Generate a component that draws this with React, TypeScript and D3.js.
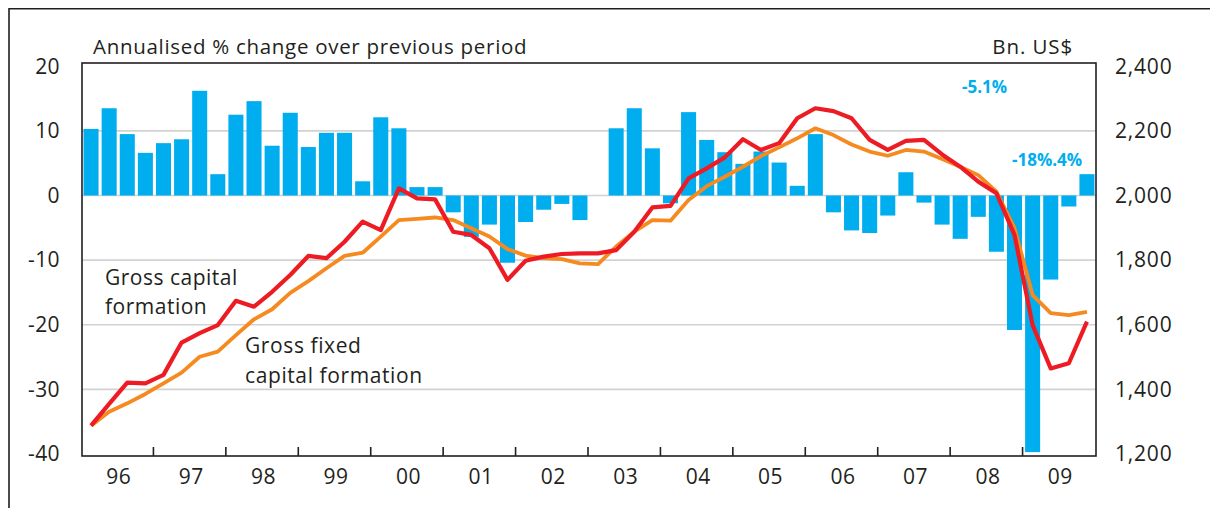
import React from 'react';
import * as d3 from 'd3';

// quarterly data 1996Q1 - 2009Q4
const years = ['96', '97', '98', '99', '00', '01', '02', '03', '04', '05', '06', '07', '08', '09'];
const quarters = years.flatMap(y => ['Q1', 'Q2', 'Q3', 'Q4'].map(q => y + q));

// annualised % change (left axis)
const pctChange = [
  10.3, 13.5, 9.5, 6.6, 8.1, 8.7, 16.2, 3.3, 12.5, 14.6, 7.7, 12.8,
  7.5, 9.7, 9.7, 2.2, 12.1, 10.4, 1.3, 1.3, -2.6, -6.4, -4.5, -10.4,
  -4.1, -2.2, -1.3, -3.8, 0, 10.4, 13.5, 7.3, -1.2, 12.9, 8.6, 6.7,
  4.9, 6.8, 5.1, 1.5, 9.5, -2.6, -5.4, -5.8, -3.1, 3.6, -1.1, -4.5,
  -6.7, -3.3, -8.7, -20.8, -39.7, -13.0, -1.7, 3.3,
];

// gross capital formation, Bn US$ (right axis)
const grossCapital = [
  1288, 1355, 1421, 1419, 1445, 1545, 1574, 1599, 1674, 1656, 1702, 1754,
  1813, 1806, 1857, 1919, 1893, 2022, 1991, 1988, 1888, 1878, 1837, 1739,
  1798, 1811, 1819, 1821, 1821, 1831, 1888, 1963, 1968, 2053, 2084, 2118,
  2174, 2141, 2162, 2239, 2270, 2261, 2239, 2172, 2141, 2169, 2172, 2127,
  2089, 2043, 2007, 1878, 1599, 1465, 1481, 1610,
];

// gross fixed capital formation, Bn US$ (right axis)
const grossFixed = [
  1288, 1331, 1357, 1386, 1419, 1452, 1501, 1517, 1568, 1617, 1648, 1699,
  1735, 1775, 1813, 1823, 1873, 1924, 1928, 1932, 1924, 1899, 1873, 1834,
  1814, 1806, 1803, 1790, 1788, 1842, 1888, 1924, 1922, 1986, 2029, 2058,
  2089, 2122, 2149, 2177, 2208, 2187, 2158, 2136, 2123, 2141, 2136, 2113,
  2089, 2063, 2012, 1899, 1692, 1636, 1630, 1640,
];

const leftTicks = [20, 10, 0, -10, -20, -30, -40];
const rightTicks = [2400, 2200, 2000, 1800, 1600, 1400, 1200];
const gridTicks = [10, 0, -10, -20, -30];

const font = "'Open Sans', sans-serif";
const ink = '#231f20';

export default function App() {
  const left = 82, right = 1096, top = 63, bottom = 456;

  const x = d3.scaleBand<string>()
    .domain(quarters)
    .range([left, right])
    .paddingInner(0.17)
    .paddingOuter(0.085);
  const step = x.step();

  const y = d3.scaleLinear().domain([-40.3, 20.5]).range([bottom, top]);
  const y2 = d3.scaleLinear().domain([1194, 2410]).range([bottom, top]);

  const cx = (q: string) => (x(q) as number) + x.bandwidth() / 2;

  const line = d3.line<number>()
    .x((_, i) => cx(quarters[i]))
    .y(d => y2(d));

  const fmt = d3.format(',');

  return (
    <div style={{ width: 1202, height: 500, overflow: 'hidden' }}>
      <svg width={1202} height={500} style={{ display: 'block' }} fontFamily={font}>
        <g transform="translate(-8,-8)">
          {/* outer frame (only top/left visible) */}
          <path d="M9,520 V8.8 H1230" fill="none" stroke={ink} strokeWidth={1.6} />

          {gridTicks.map(t => (
            <line key={t} x1={left} x2={right} y1={y(t)} y2={y(t)} stroke="#d2d2d2" strokeWidth={1.6} />
          ))}

          {pctChange.map((v, i) => (
            <rect key={i}
              x={x(quarters[i])}
              width={x.bandwidth()}
              y={y(Math.max(0, v))}
              height={Math.abs(y(v) - y(0))}
              fill="#00adee" />
          ))}

          <path d={line(grossFixed) || ''} fill="none" stroke="#f58a20" strokeWidth={3.8} strokeLinejoin="round" />
          <path d={line(grossCapital) || ''} fill="none" stroke="#ed1c24" strokeWidth={4.2} strokeLinejoin="round" />

          {/* plot frame */}
          <rect x={left} y={top} width={right - left} height={bottom - top} fill="none" stroke={ink} strokeWidth={1.6} />

          {/* year ticks */}
          {years.slice(1).map((yr, k) => {
            const xt = (x(quarters[(k + 1) * 4]) as number) - step * 0.085 - 1;
            return <line key={yr} x1={xt} x2={xt} y1={bottom} y2={bottom - 9} stroke={ink} strokeWidth={1.6} />;
          })}
          {years.map((yr, k) => {
            const x0 = x(quarters[k * 4]) as number;
            return (
              <text key={yr} x={x0 + step * 2 - 1} y={484} textAnchor="middle" fontSize={21} letterSpacing={0.5} fill={ink}>{yr}</text>
            );
          })}

          {leftTicks.map(t => (
            <text key={t} x={60} y={y(t)} dy="0.35em" textAnchor="end" fontSize={21} letterSpacing={0.4} fill={ink}>{t}</text>
          ))}
          {rightTicks.map(t => (
            <text key={t} x={1115} y={y2(t)} dy="0.35em" textAnchor="start" fontSize={21} letterSpacing={0.8} fill={ink}>{fmt(t)}</text>
          ))}

          <text x={93} y={54} fontSize={20.5} letterSpacing={0.7} fill={ink}>Annualised % change over previous period</text>
          <text x={1073} y={54} fontSize={20.5} letterSpacing={0.9} fill={ink} textAnchor="end">Bn. US$</text>

          <text x={105} y={285} fontSize={21} letterSpacing={0.5} fill={ink}>Gross capital</text>
          <text x={105} y={314} fontSize={21} letterSpacing={0.5} fill={ink}>formation</text>
          <text x={245} y={353} fontSize={21} letterSpacing={0.6} fill={ink}>Gross fixed</text>
          <text x={245} y={383} fontSize={21} letterSpacing={0.6} fill={ink}>capital formation</text>

          <text x={962} y={93} fontSize={17} fontWeight="bold" fill="#00adee">-5.1%</text>
          <text x={1012} y={166} fontSize={17} fontWeight="bold" fill="#00adee">-18%.4%</text>
        </g>
      </svg>
    </div>
  );
}
